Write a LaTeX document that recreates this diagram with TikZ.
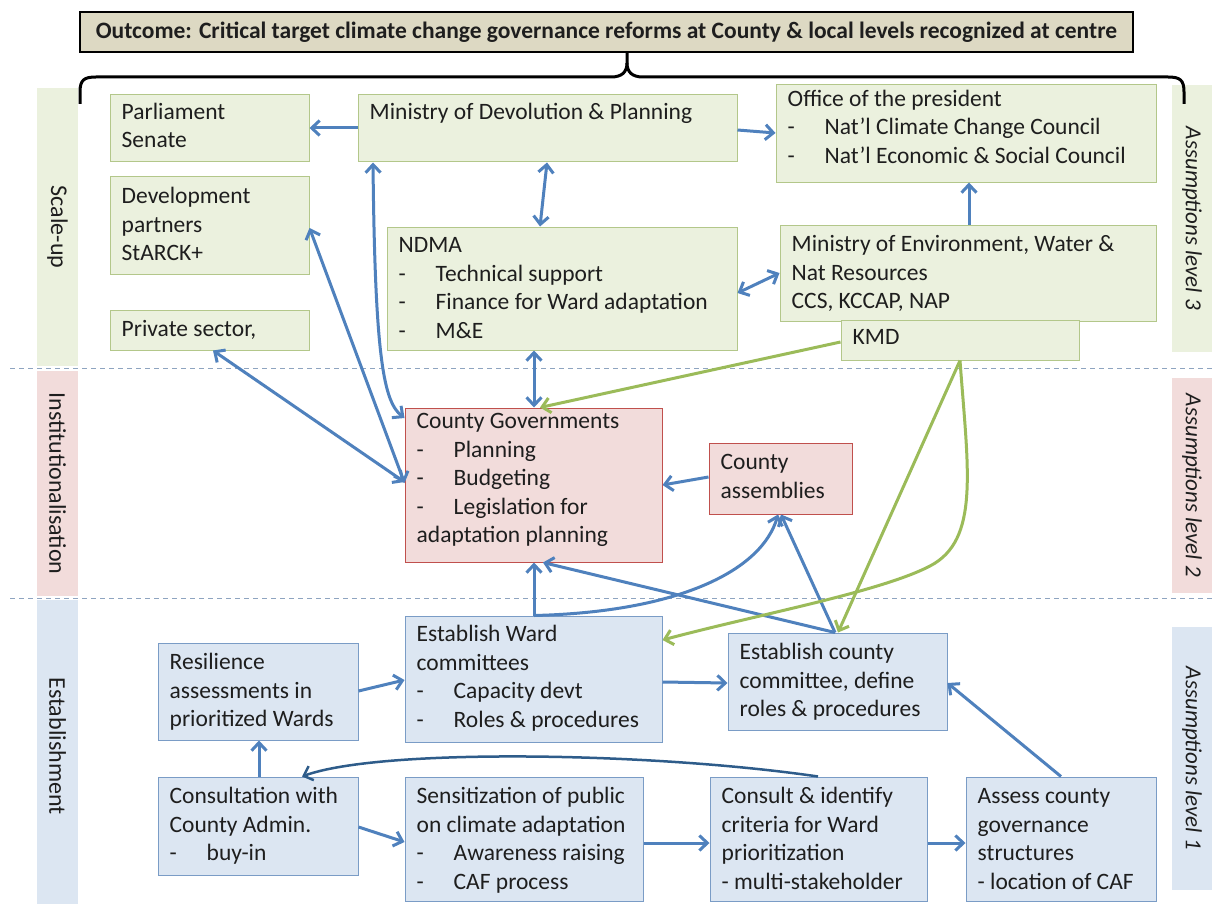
\documentclass[tikz,border=0pt]{standalone}
\usepackage{fontspec}
\setmainfont{Carlito}
\usetikzlibrary{arrows.meta,fit,calc}

\definecolor{grfill}{HTML}{EBF1DE}
\definecolor{grline}{HTML}{B3C78A}
\definecolor{pkfill}{HTML}{F2DCDB}
\definecolor{pkline}{HTML}{C0504D}
\definecolor{blfill}{HTML}{DCE6F2}
\definecolor{blline}{HTML}{7A9CC6}
\definecolor{arrblue}{HTML}{4F81BD}
\definecolor{arrdark}{HTML}{2E5C8A}
\definecolor{arrgreen}{HTML}{9BBB59}
\definecolor{hdrfill}{HTML}{DDD9C3}
\definecolor{dashc}{HTML}{8EA4C0}
\definecolor{txtc}{HTML}{1E1E1E}

% dash bullet with a tab-like indent
\newcommand\itm{\makebox[37pt][l]{-}}
% text block placed inside a named box: [offset of first baseline]{box}{lines}
\newcommand\btxt[3][26]{\node[txt] at ([xshift=12pt,yshift=-#1pt]#2.north west) {\parbox[t]{400pt}{#3}};}

\tikzset{
  >={Straight Barb[length=8pt,width=15pt]},
  gbox/.style={draw=grline, fill=grfill, line width=1pt, inner sep=0pt},
  pbox/.style={draw=pkline, fill=pkfill, line width=1pt, inner sep=0pt},
  bbox/.style={draw=blline, fill=blfill, line width=1pt, inner sep=0pt},
  txt/.style={anchor=base west, inner sep=0pt, text=txtc, font=\fontsize{23.5}{28.5}\selectfont},
  barr/.style={draw=arrblue, line width=3pt, ->},
  darr/.style={draw=arrblue, line width=3pt, <->},
  carr/.style={draw=arrdark, line width=2.5pt, ->},
  garr/.style={draw=arrgreen, line width=3pt, ->},
  strip/.style={inner sep=0pt},
  striptxt/.style={rotate=-90, text=txtc, font=\fontsize{24}{28}\selectfont},
  levtxt/.style={rotate=-90, text=txtc, font=\fontsize{23}{28}\selectfont\itshape},
  dashline/.style={draw=dashc, line width=1pt, dash pattern=on 5pt off 4pt},
}

\begin{document}
\begin{tikzpicture}[x=1pt,y=-1pt]
\useasboundingbox (0,0) rectangle (1214,904);
\fill[white] (0,0) rectangle (1214,904);

% ---- phase strips (left) and assumption strips (right)
\node[strip, fill=grfill, fit={(37,88) (78,366)}] (sscale) {};
\node[strip, fill=pkfill, fit={(37,371) (78,596)}] (sinst) {};
\node[strip, fill=blfill, fit={(37,600) (78,904)}] (sest) {};
\node[striptxt] at (sscale.center) {Scale-up};
\node[striptxt] at (sinst.center) {Institutionalisation};
\node[striptxt] at ([yshift=6pt]sest.center) {Establishment};

\node[strip, fill=grfill, fit={(1172,85) (1212,352)}] (alev3) {};
\node[strip, fill=pkfill, fit={(1172,378) (1212,593)}] (alev2) {};
\node[strip, fill=blfill, fit={(1172,627) (1212,890)}] (alev1) {};
\node[levtxt] at (alev3.center) {Assumptions level 3};
\node[levtxt] at (alev2.center) {Assumptions level 2};
\node[levtxt] at (alev1.center) {Assumptions level 1};

% ---- level separators
\draw[dashline] (10,368) -- (1214,368);
\draw[dashline] (10,598) -- (1214,598);

% ---- outcome header and brace
\node[draw=black, fill=hdrfill, line width=1.5pt, inner sep=0pt, fit={(80,12) (1133,52)}] (hdr) {};
\node[text=txtc, font=\fontsize{23.5}{28}\selectfont\bfseries] at (hdr.center) {Outcome: Critical target climate change governance reforms at County \& local levels recognized at centre};
\draw[line width=3pt, line join=round]
  (80,104) -- (80,92) .. controls (80,80) and (84,77) .. (96,77) -- (611,77)
  .. controls (622,77) and (627,72) .. (627,63) -- (hdr.south -| 627,0);
\draw[line width=3pt, line join=round]
  (627,63) .. controls (627,72) and (632,77) .. (643,77) -- (1168,77)
  .. controls (1180,77) and (1184,80) .. (1184,92) -- (1184,104);

% ---- scale-up level (green)
\node[gbox, fit={(110,95) (309,162)}] (parl) {};
\node[gbox, fit={(358,95) (737,162)}] (mindev) {};
\node[gbox, fit={(776,85) (1156,182)}] (office) {};
\node[gbox, fit={(110,177) (309,274)}] (devp) {};
\node[gbox, fit={(387,227) (737,350)}] (ndma) {};
\node[gbox, fit={(780,225) (1156,321)}] (minenv) {};
\node[gbox, fit={(841,320) (1079,360)}] (kmd) {};
\node[gbox, fit={(110,310) (309,350)}] (priv) {};

\btxt[25]{parl}{Parliament\\Senate}
\btxt[25]{mindev}{Ministry of Devolution \& Planning}
\btxt[22]{office}{Office of the president\\\itm Nat’l Climate Change Council\\\itm Nat’l Economic \& Social Council}
\btxt[27]{devp}{Development\\partners\\StARCK+}
\btxt[26]{ndma}{NDMA\\\itm Technical support\\\itm Finance for Ward adaptation\\\itm M\&E}
\btxt[27]{minenv}{Ministry of Environment, Water \&\\Nat Resources\\CCS, KCCAP, NAP}
\btxt[25]{kmd}{KMD}
\btxt[27]{priv}{Private sector,}

% ---- institutionalisation level (red)
\node[pbox, fit={(405,408) (662,562)}] (cg) {};
\node[pbox, fit={(709,443) (852,514)}] (ca) {};
\btxt[21]{cg}{County Governments\\\itm Planning\\\itm Budgeting\\\itm Legislation for\\adaptation planning}
\btxt[27]{ca}{County\\assemblies}

% ---- establishment level (blue)
\node[bbox, fit={(158,643) (358,740)}] (res) {};
\node[bbox, fit={(405,616) (662,742)}] (ward) {};
\node[bbox, fit={(728,633) (947,730)}] (estc) {};
\node[bbox, fit={(158,777) (358,875)}] (cons) {};
\node[bbox, fit={(405,777) (643,901)}] (sens) {};
\node[bbox, fit={(710,777) (927,901)}] (crit) {};
\node[bbox, fit={(966,777) (1156,901)}] (assess) {};

\btxt[27]{res}{Resilience\\assessments in\\prioritized Wards}
\btxt[26]{ward}{Establish Ward\\committees\\\itm Capacity devt\\\itm Roles \& procedures}
\btxt[27]{estc}{Establish county\\committee, define\\roles \& procedures}
\btxt[27]{cons}{Consultation with\\County Admin.\\\itm buy-in}
\btxt[27]{sens}{Sensitization of public\\on climate adaptation\\\itm Awareness raising\\\itm CAF process}
\btxt[27]{crit}{Consult \& identify\\criteria for Ward\\prioritization\\- multi-stakeholder}
\btxt[27]{assess}{Assess county\\governance\\structures\\- location of CAF}

% ---- connectors, scale-up level
\draw[barr] (mindev.west |- 0,128) -- (parl.east |- 0,128);
\draw[barr] (mindev.east |- 0,130) -- (office.west |- 0,133);
\draw[darr] (mindev.south -| 547,0) -- (ndma.north -| 540,0);
\draw[darr] (ndma.east |- 0,293) -- (minenv.west |- 0,273);
\draw[barr] (minenv.north -| 969,0) -- (office.south -| 969,0);

% ---- connectors into county governments
\draw[darr] (ndma.south -| 534,0) -- (cg.north -| 534,0);
\draw[darr] (mindev.south -| 373,0) .. controls (375,360) and (384,402) .. (cg.west |- 0,418);
\draw[darr] (devp.east |- 0,228) -- (cg.west |- 0,483);
\draw[darr] (priv.south -| 213,0) -- (cg.west |- 0,482);
\draw[barr] (ca.west |- 0,477) -- (cg.east |- 0,485);
\draw[garr] (kmd.west |- 0,342) -- (cg.north -| 540,0);

% ---- connectors from establishment level
\draw[barr] (ward.north -| 534,0) -- (cg.south -| 534,0);
\draw[barr] (ward.north -| 534,0) .. controls (680,612) and (762,570) .. (ca.south -| 778,0);
\draw[barr] (estc.north -| 835,0) -- (cg.south -| 543,0);
\draw[barr] (estc.north -| 835,0) -- (ca.south -| 781,0);
\draw[garr] (kmd.south) -- (estc.north -| 838,0);
\draw[garr] (kmd.south) .. controls (968,470) and (980,540) .. (930,566)
  .. controls (880,592) and (760,614) .. (ward.east |- 0,640);

\draw[barr] (res.east |- 0,691) -- (ward.west |- 0,680);
\draw[barr] (ward.east |- 0,682) -- (estc.west |- 0,683);
\draw[barr] (cons.north -| 259,0) -- (res.south -| 259,0);
\draw[carr] (crit.north -| 818,0) .. controls (650,752) and (380,748) .. (cons.north -| 302,0);
\draw[barr] (cons.east |- 0,827) -- (sens.west |- 0,842);
\draw[barr] (sens.east |- 0,843) -- (crit.west |- 0,843);
\draw[barr] (crit.east |- 0,843) -- (assess.west |- 0,843);
\draw[barr] (assess.north -| 1061,0) -- (estc.east |- 0,683);
\end{tikzpicture}
\end{document}
